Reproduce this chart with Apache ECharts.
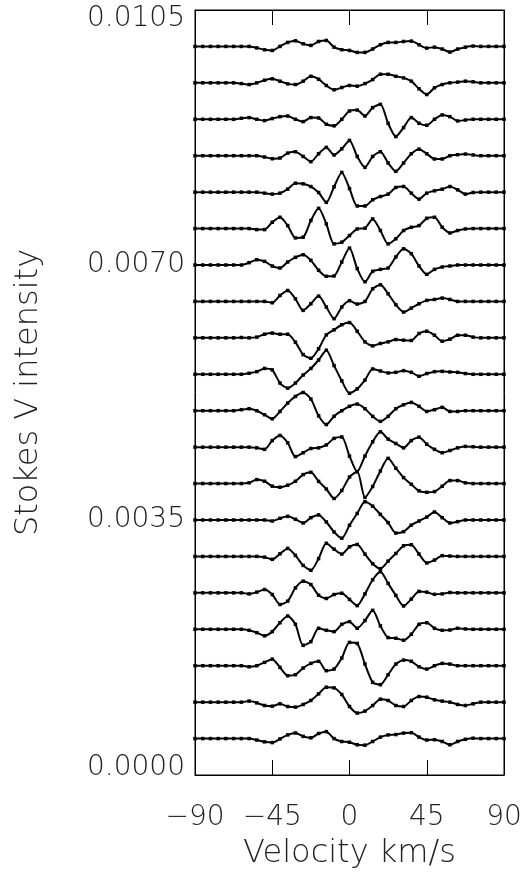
<!DOCTYPE html>
<html>
<head>
<meta charset="utf-8">
<script src="https://cdn.jsdelivr.net/npm/echarts@6.0.0/dist/echarts.min.js"></script>
<style>
html,body{margin:0;padding:0;background:#fff;}
#chart{width:525px;height:875px;}
</style>
</head>
<body>
<div id="chart"></div>
<script>
// Velocity grid (km/s)
const velocity = [-90,-85.5,-81,-76.5,-72,-67.5,-63,-58.5,-54,-49.5,-45,-40.5,-36,-31.5,-27,-22.5,-18,-13.5,-9,-4.5,0,4.5,9,13.5,18,22.5,27,31.5,36,40.5,45,49.5,54,58.5,63,67.5,72,76.5,81,85.5,90];
// Vertical offset of each profile (top to bottom)
const offsets = [0.0100,0.0095,0.0090,0.0085,0.0080,0.0075,0.0070,0.0065,0.0060,0.0055,0.0050,0.0045,0.0040,0.0035,0.0030,0.0025,0.0020,0.0015,0.0010,0.0005];
// Stokes V values, in units of 1e-4, top profile first
const VSCALE = 1e-4;
const profile01 = [0,0,0,0,0,0,0,0,-0.2,-0.45,-0.55,0,0.55,0.77,0.36,0.14,0.68,0.82,-0.1,-0.45,-0.55,-0.82,-0.82,-0.36,0.23,0.55,0.55,0.68,0.73,0.23,-0.23,-0.1,-0.36,-0.77,-0.36,-0.1,0.05,0,0,0,0];
const profile02 = [0,0,0,0,0,0,-0.1,-0.23,0,0.36,0.55,0.23,-0.14,-0.23,0.23,0.9,0.5,-0.36,-0.95,-0.64,-0.36,-0.45,-0.1,0.45,1.18,1.18,0.9,0.68,0.23,-0.82,-1.6,-0.68,-0.23,0,0.1,0.23,0.14,0,0,0,0];
const profile03 = [0,0,0,0,0,0,0.14,0.23,0,-0.18,0.1,0.36,0.45,0,-0.32,0.23,0.18,-0.68,-0.9,0,1.14,1.27,0.45,1.6,2.05,-0.55,-2.37,-1.14,0.23,-0.55,-0.82,0,0.6,0.36,-0.23,-0.1,0,0,0,0,0];
const profile04 = [0,0,0,0,0,0,0,0,0,-0.18,-0.41,-0.32,0.36,0.55,-0.1,-0.82,0.27,1.14,0.1,0.95,2.1,-0.1,-1.6,-0.1,0.55,-1.0,-2.14,-1.0,0.27,0.9,0.27,-0.45,-0.45,0,0.14,0.23,0.1,0,0,0,0];
const profile05 = [0,0,0,0,0,0,0,0,0,-0.14,-0.27,-0.14,0.41,1.23,1.14,0.77,-0.05,-1.4,0.73,2.7,0.5,-1.9,-1.9,-1.05,-0.6,-0.27,0.64,0.77,-0.14,-0.96,-0.14,0.18,0.41,0.77,0.32,-0.27,-0.05,0,0,0,0];
const profile06 = [0,0,0,0,0,0,0,0,-0.14,-0.14,0.87,1.55,0.41,-1.28,-1.18,1.1,2.78,0.64,-2.1,-1.87,-0.96,-0.05,0.05,1.32,-0.27,-2.1,-1.4,-0.27,0.18,0.41,1.41,1.55,0.18,-0.6,-0.27,-0.05,0,0,0,0,0];
const profile07 = [0,0,0,0,0,0,0,0.32,0.73,0.5,-0.14,-0.41,0.41,1.05,1.41,0.64,-0.73,-1.55,-1.5,0.41,2.32,-0.5,-2.3,-0.87,-0.6,-0.41,1.1,2.23,1.55,-0.14,-1.28,-0.6,-0.27,-0.14,0,0,0,0,0,0,0];
const profile08 = [0,0,0,0,0,0,0,0,0,0,-0.18,0.82,1.5,0.36,-1.23,-0.32,0.73,-0.77,-2.37,-0.77,0.1,-0.36,0,1.73,2.28,1.05,-0.45,-1.46,-0.91,-0.32,0.14,0.27,0.46,0.27,0,0,0,0,0,0,0];
const profile09 = [0,0,0,0,0,0,0.05,0,0.1,0.5,0.65,0.5,0.5,-0.6,-2.3,-2.8,-1.5,0.4,1.1,1.8,2.1,0.9,-0.55,-1.1,-0.77,-0.55,-0.23,-0.32,-0.36,0.6,0.91,0.36,-0.46,-0.18,0.36,0.36,0.1,0,0,0,0];
const profile10 = [0,0,0,0,0,0,0,0.14,0.36,0.8,0.6,-1.2,-1.9,-1.2,-0.1,0.8,1.96,3.3,1.2,-0.9,-2.6,-2.0,-0.8,0.73,0.45,0.18,0.27,0.5,0.27,-0.27,0.1,0.36,0.4,0.32,0.27,0.1,0,0,0,0,0];
const profile11 = [0,0,0,0,0,0,0.14,0.27,0,-0.55,-1.1,-0.1,1.05,1.96,2.5,1.6,-0.7,-1.9,-0.77,0,0.6,0.91,0.27,-0.77,-1.46,-0.77,0.27,0.82,1.14,0.6,-0.1,0.14,0.46,-0.1,-0.1,0,0,0,0,0,0];
const profile12 = [0,0,0,0,0,0,0,0,-0.1,-0.3,0.9,1.6,0.6,-1.3,-0.77,-0.18,-0.1,0.3,1.2,1.4,-1.23,-3.37,-1.23,0.73,2.1,1.1,0.5,-0.1,0.9,1.37,0.4,-0.3,-0.77,-0.46,-0.1,0.1,0.05,0,0,0,0];
const profile13 = [0,0,0,0,0,0,0,0.1,0.55,0.32,-0.36,-0.5,-0.23,0.32,1.23,1.55,0.3,-0.75,-2.05,-0.95,0.9,1.64,-1.9,-0.4,1.73,3.46,2.1,0.82,-0.1,-1.0,-1.2,-1.1,-0.36,0.41,0.41,0.1,0,0,0,0,0];
const profile14 = [0,0,0,0,0,0,0,0,0,0,-0.14,0.23,0.5,0.1,-0.41,0.32,0.7,-0.27,-1.64,-2.5,-0.73,0.9,2.5,1.9,0.77,-0.36,-1.8,-1.6,-0.7,-0.14,0.4,1.1,0.32,-0.41,-0.23,0,0,0,0,0,0];
const profile15 = [0,0,0,0,0,0,0,0,0,-0.1,-0.4,0.36,1.1,0.14,-1.23,-1.9,-0.3,1.8,1.0,0.32,1.32,1.64,0.32,-1.0,-1.68,-0.64,0.41,1.46,1.6,0.32,-0.9,-0.5,0.1,0.05,0,0,0,0,0,0,0];
const profile16 = [0,0,0,0,0,0,0,-0.14,0.1,0.46,-0.23,-1.6,-1.14,0.68,1.6,1.14,-0.32,-0.77,-0.23,-0.05,-0.9,-1.75,-0.14,1.8,2.9,1.3,-0.35,-1.8,-0.85,0.2,0.1,-0.2,-0.14,0.05,0,0,0,0,0,0,0];
const profile17 = [0,0,0,0,0,0,0,-0.14,-0.46,-0.9,-0.32,0.9,1.82,0.68,-2.2,-1.7,0.14,-0.14,-0.32,0.68,1.05,0.14,1.2,2.6,0.46,-1.14,-1.23,-1.5,-0.68,0.68,0.9,0.14,-0.14,-0.1,0.14,0.05,0,0,0,0,0];
const profile18 = [0,0,0,0,0,0,0,-0.14,0,0.46,0.9,-0.23,-1.37,-1.23,-0.32,0.32,0.6,-0.68,-0.46,1.05,3.2,3.05,0.23,-2.28,-2.6,-1.23,0.23,0.77,0.6,-0.14,-0.46,0,0.32,0.23,0,0,0,0,0,0,0];
const profile19 = [0,0,0,0,0,0,0,0.14,-0.1,-0.46,-0.55,-0.23,-0.6,-0.68,-0.32,0.23,1.14,2.05,1.96,1.05,-0.6,-1.5,-1.23,-0.46,0.41,0.23,-0.46,-0.6,0.23,0.77,0.68,0.32,0.14,0,-0.32,-0.46,-0.23,0,0,0,0];
const profile20 = [0,0,0,0,0,0,0,0,-0.2,-0.45,-0.55,-0.05,0.5,0.77,0.3,0.1,0.7,0.95,0,-0.4,-0.5,-0.85,-0.9,-0.4,0.2,0.5,0.55,0.75,0.8,0.2,-0.2,-0.15,-0.4,-0.85,-0.4,-0.1,0.05,0,0,0,0];
// Axis tick labels
const xTickLabels = {'-90':'\u221290','-45':'\u221245','0':'0','45':'45','90':'90'};
const yTickDecimals = 4;

const profiles = [profile01,profile02,profile03,profile04,profile05,profile06,profile07,profile08,profile09,profile10,
                  profile11,profile12,profile13,profile14,profile15,profile16,profile17,profile18,profile19,profile20];

const FONT = 'DejaVu Sans';
const TXT = '#222';

const series = profiles.map((p, k) => ({
  type: 'line',
  data: velocity.map((v, i) => [v, offsets[k] + p[i] * VSCALE]),
  smooth: 0.25,
  symbol: 'rect',
  symbolSize: 3.5,
  showSymbol: true,
  lineStyle: { color: '#000', width: 2 },
  itemStyle: { color: '#000' },
  silent: true,
  animation: false
}));

const labelStyle = { fontSize: 28, color: TXT, fontFamily: FONT, fontWeight: 200 };

const chart = echarts.init(document.getElementById('chart'), null, { renderer: 'canvas' });
chart.setOption({
  backgroundColor: '#fff',
  animation: false,
  grid: { left: 195, right: 21, top: 10, bottom: 97, show: true, borderColor: '#000', borderWidth: 1, backgroundColor: 'transparent' },
  xAxis: [{
    type: 'value', min: -90, max: 90, interval: 45, position: 'bottom',
    axisLine: { show: true, onZero: false, lineStyle: { color: '#000', width: 1 } },
    axisTick: { show: true, inside: true, length: 15, lineStyle: { color: '#000', width: 1 } },
    axisLabel: Object.assign({ formatter: v => xTickLabels[String(v)] ?? String(v), margin: 29 }, labelStyle),
    splitLine: { show: false },
    name: 'Velocity km/s', nameLocation: 'middle', nameGap: 63,
    nameTextStyle: { fontSize: 32, color: TXT, fontFamily: FONT, fontWeight: 200 }
  }, {
    type: 'value', min: -90, max: 90, interval: 45, position: 'top',
    axisLine: { show: true, onZero: false, lineStyle: { color: '#000', width: 1 } },
    axisTick: { show: true, inside: true, length: 15, lineStyle: { color: '#000', width: 1 } },
    axisLabel: { show: false }, splitLine: { show: false }
  }],
  yAxis: [{
    type: 'value', min: 0, max: 0.0105, interval: 0.0035, position: 'left',
    axisLine: { show: true, onZero: false, lineStyle: { color: '#000', width: 1 } },
    axisTick: { show: false },
    axisLabel: Object.assign({
      margin: 10,
      formatter: v => {
        const s = v.toFixed(yTickDecimals);
        if (v >= 0.0105 - 1e-9) return '{top|' + s + '}';
        if (v <= 1e-9) return '{bot|' + s + '}';
        return s;
      },
      rich: {
        top: { fontSize: 28, color: TXT, fontFamily: FONT, fontWeight: 200, padding: [18, 0, 0, 0] },
        bot: { fontSize: 28, color: TXT, fontFamily: FONT, fontWeight: 200, padding: [0, 0, 14, 0] }
      }
    }, labelStyle),
    splitLine: { show: false },
    name: 'Stokes V intensity', nameLocation: 'middle', nameGap: 150, nameRotate: 90,
    nameTextStyle: { fontSize: 32, color: TXT, fontFamily: FONT, fontWeight: 200 }
  }, {
    type: 'value', min: 0, max: 0.0105, interval: 0.0035, position: 'right',
    axisLine: { show: true, onZero: false, lineStyle: { color: '#000', width: 1 } },
    axisTick: { show: false }, axisLabel: { show: false }, splitLine: { show: false }
  }],
  series: series
});
</script>
</body>
</html>
